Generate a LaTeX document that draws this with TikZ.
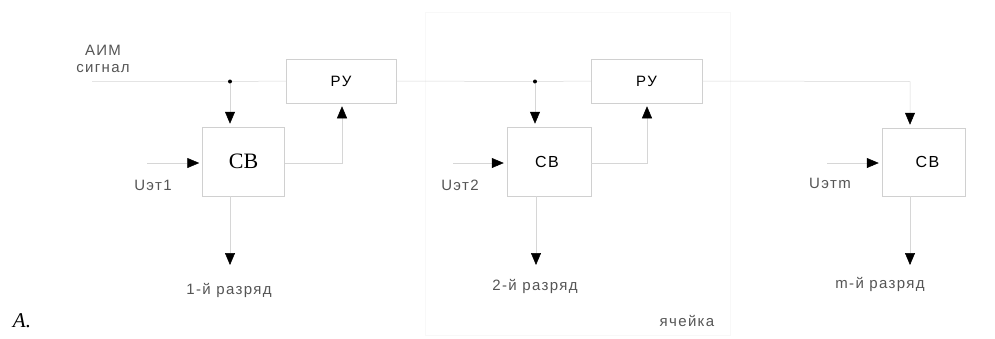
\documentclass[tikz,border=0pt]{standalone}
\usepackage{fontspec}
\setmainfont{Liberation Serif}
\newfontfamily\lblfont[LetterSpace=9]{Liberation Sans}
\usepackage{tikz}
\usetikzlibrary{arrows.meta, positioning, calc}
\usepackage{xcolor}
\definecolor{wiregray}{HTML}{D6D6D6}
\definecolor{boxgray}{HTML}{D0D0D0}
\definecolor{cellgray}{HTML}{F8F8F8}
\definecolor{txtgray}{HTML}{555555}

\tikzset{
  blk/.style={draw=boxgray, line width=0.5pt, inner sep=0pt},
  svbox/.style={blk, minimum width=82pt, minimum height=69pt},
  rubox/.style={blk, minimum width=110pt, minimum height=44pt},
  wire/.style={draw=wiregray, line width=0.5pt},
  arr/.style={wire, -{Triangle[length=12pt, width=10pt, color=black]}, shorten >=3pt},
  lbl/.style={font=\lblfont\fontsize{15}{17}\selectfont, text=txtgray, inner sep=0pt},
  blab/.style={font=\lblfont\fontsize{16}{18}\selectfont, text=black},
  junc/.style={circle, fill=black, inner sep=0pt, minimum size=4pt}
}

\begin{document}
\begin{tikzpicture}[x=1pt, y=-1pt]
  \useasboundingbox (0,0) rectangle (995,338);

  % cell frame
  \draw[cellgray, line width=0.5pt] (425,12) rectangle (730,335);

  % blocks
  \node[svbox] (sv1) at (243.5,161.5) {};
  \node[font=\fontsize{22}{24}\selectfont] at (sv1) {СВ};
  \node[svbox, minimum width=84pt] (sv2) at (549,161.5) {};
  \node[blab, xshift=-2pt] at (sv2) {СВ};
  \node[svbox, minimum width=83pt, minimum height=68pt] (svm) at (923.5,162) {};
  \node[blab, xshift=4pt] at (svm) {СВ};
  \node[rubox, blab, font=\lblfont\fontsize{15}{17}\selectfont] (ru1) at (341,81) {РУ};
  \node[rubox, blab, font=\lblfont\fontsize{15}{17}\selectfont, minimum width=111pt] (ru2) at (646.5,81) {РУ};

  % junctions and free ends
  \node[junc] (j1) at (230,81.5) {};
  \node[junc] (j2) at (535,81.5) {};
  \coordinate (in) at (92,81.5);
  \coordinate (bend) at (910,81.5);
  \coordinate (u1) at (147,163);
  \coordinate (u2) at (453,163);
  \coordinate (um) at (827,163);
  \coordinate (o1) at (230,265);
  \coordinate (o2) at (536,265);
  \coordinate (om) at (910,265);

  % signal path
  \draw[wire] (in) -- (j1) -- (ru1.west);
  \draw[wire] (ru1.east) -- (j2) -- (ru2.west);
  \draw[arr] (ru2.east) -- (bend) -- (bend |- svm.north);
  \draw[arr] (j1) -- (j1 |- sv1.north);
  \draw[arr] (j2) -- (j2 |- sv2.north);

  % reference inputs
  \draw[arr] (u1) -- (u1 -| sv1.west);
  \draw[arr] (u2) -- (u2 -| sv2.west);
  \draw[arr] (um) -- (um -| svm.west);

  % feedback to РУ
  \draw[arr] (sv1.east |- u1) -| ($(ru1.south)+(1,0)$);
  \draw[arr] (sv2.east |- u2) -| ($(ru2.south)+(0.5,0)$);

  % outputs
  \draw[arr, shorten >=0pt] (o1 |- sv1.south) -- (o1);
  \draw[arr, shorten >=0pt] (o2 |- sv2.south) -- (o2);
  \draw[arr, shorten >=0pt] (om |- svm.south) -- (om);

  % labels
  \node[lbl] (aim) at (103,50) {АИМ};
  \node[lbl, below=9pt of aim] {сигнал};
  \node[lbl] at (153,185) {Uэт1};
  \node[lbl] at (460,185) {Uэт2};
  \node[lbl] at (830,183) {Uэтm};
  \node[lbl] at (229,290) {1-й разряд};
  \node[lbl] at (535,286) {2-й разряд};
  \node[lbl] at (880,284) {m-й разряд};
  \node[lbl] at (687,321) {ячейка};
  \node[font=\itshape\fontsize{21}{23}\selectfont] at (22,321) {A.};
\end{tikzpicture}
\end{document}
